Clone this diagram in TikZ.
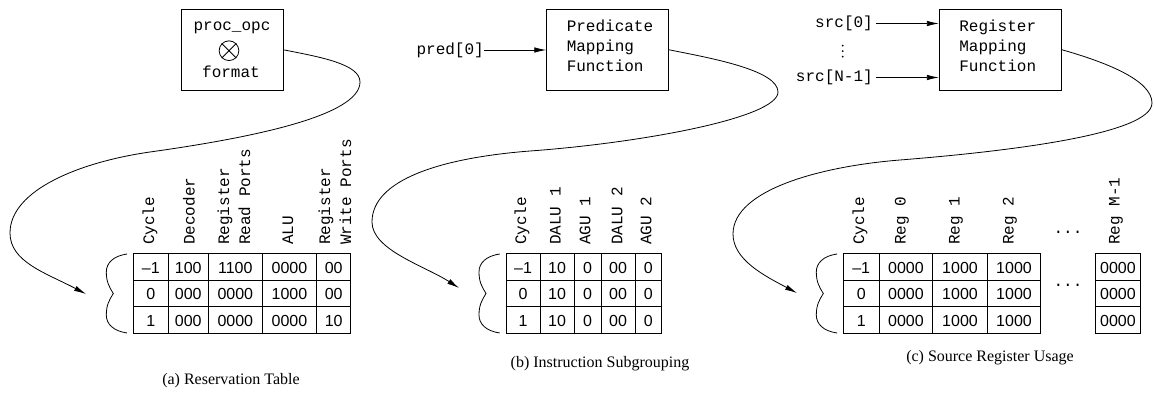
\documentclass[tikz,border=0pt]{standalone}
\usepackage{fontspec}
\setmainfont{Liberation Serif}
\newfontfamily\monof{Liberation Mono}
\newfontfamily\sansf{Liberation Sans}
\usetikzlibrary{arrows.meta}
\begin{document}
\begin{tikzpicture}[x=1pt,y=-1pt,
  mono/.style={font=\monof\fontsize{16}{20}\selectfont, inner sep=0},
  cell/.style={font=\sansf\fontsize{16}{18}\selectfont, inner sep=0},
  hdr/.style={font=\monof\fontsize{16}{21}\selectfont, rotate=90, anchor=west, align=left, inner sep=0},
  fnbox/.style={draw, line width=0.8pt, minimum height=81pt, inner sep=0},
  captext/.style={font=\fontsize{16}{19}\selectfont, inner sep=0},
  gridline/.style={line width=0.8pt},
  bracel/.style={line width=0.8pt},
  dotmark/.style={circle, fill, inner sep=0, minimum size=2pt},
  arr/.style={line width=0.8pt, -{Latex[length=12pt,width=5.5pt]}}]
\path[use as bounding box] (0,0) rectangle (1154,406);

% ---------------- (a) ----------------
\node[fnbox, minimum width=102pt] (pa) at (232,49.8) {};
\node[mono] (popc) at (232,27.5) {proc\_opc};
\node[draw, circle, line width=0.8pt, minimum size=19.7pt, inner sep=0] (ox) at (229,50.7) {};
\draw[line width=0.8pt] (ox.45) -- (ox.225) (ox.135) -- (ox.315);
\node[mono] (fmt) at (231,72) {format};

\coordinate (ta) at (86,294);
\draw[arr] (pa.east) .. controls (320,57) and (360,64) .. (360,82)
  .. controls (360,116) and (250,138) .. (150,152)
  .. controls (80,162) and (10,190) .. (10,233)
  .. controls (10,262) and (46,273) .. (ta);

\draw[bracel, shift={(133.3,0)}] (-6.3,254) .. controls (-20,256) and (-27,263) .. (-27,272)
  .. controls (-27,282) and (-24,287) .. (-20,293.5)
  .. controls (-24,300) and (-27,305) .. (-27,315)
  .. controls (-27,324) and (-20,331) .. (-6.3,333);

\draw[gridline] (133.3,253.5) rectangle (350.7,333.3);
\foreach \x in {168.3,208.3,262.3,316.7} \draw[gridline] (\x,253.5) -- (\x,333.3);
\foreach \y in {280,306.7} \draw[gridline] (133.3,\y) -- (350.7,\y);

\node[hdr] (ah1) at (150,245) {Cycle};
\node[hdr] (ah2) at (189,245) {Decoder};
\node[hdr] (ah3) at (234,245) {Register\\Read Ports};
\node[hdr] (ah4) at (288,245) {ALU};
\node[hdr] (ah5) at (335,245) {Register\\Write Ports};

\foreach \x/\p/\q/\r [count=\i] in {150.8/–1/0/1, 188.3/100/000/000, 235.3/1100/0000/0000, 289.5/0000/1000/0000, 333.7/00/00/10} {
  \node[cell] (a-\i-1) at (\x,267.5) {\p};
  \node[cell] (a-\i-2) at (\x,294) {\q};
  \node[cell] (a-\i-3) at (\x,320.7) {\r};
}
\node[captext] (capa) at (231,381) {(a) Reservation Table};

% ---------------- (b) ----------------
\node[fnbox, minimum width=122pt] (pmf) at (607.7,49.8) {};
\node[mono, align=left] (pmft) at (610,45.5) {Predicate\\Mapping\\Function};
\node[mono, anchor=east] (pred) at (484,50) {pred[0]};
\draw[arr] (pred.east) -- (pred.east -| pmf.west);

\coordinate (tb) at (459,288);
\draw[arr] (pmf.east) .. controls (710,58) and (778,70) .. (778,92)
  .. controls (778,118) and (640,143) .. (530,151)
  .. controls (440,158) and (372,180) .. (372,222)
  .. controls (372,250) and (425,266) .. (tb);

\draw[bracel, shift={(506,0)}] (-6.3,254) .. controls (-20,256) and (-27,263) .. (-27,272)
  .. controls (-27,282) and (-24,287) .. (-20,293.5)
  .. controls (-24,300) and (-27,305) .. (-27,315)
  .. controls (-27,324) and (-20,331) .. (-6.3,333);

\draw[gridline] (506,253.5) rectangle (661.7,333.3);
\foreach \x in {540,574,601,635} \draw[gridline] (\x,253.5) -- (\x,333.3);
\foreach \y in {280,306.7} \draw[gridline] (506,\y) -- (661.7,\y);

\node[hdr] (bh1) at (522,245) {Cycle};
\node[hdr] (bh2) at (555.5,245) {DALU 1};
\node[hdr] (bh3) at (585,245) {AGU 1};
\node[hdr] (bh4) at (617,245) {DALU 2};
\node[hdr] (bh5) at (646,245) {AGU 2};

\foreach \x/\p/\q/\r [count=\i] in {523/–1/0/1, 557/10/10/10, 587.5/0/0/0, 618/00/00/00, 648.3/0/0/0} {
  \node[cell] (b-\i-1) at (\x,267.5) {\p};
  \node[cell] (b-\i-2) at (\x,294) {\q};
  \node[cell] (b-\i-3) at (\x,320.7) {\r};
}
\node[captext] (capb) at (600,364) {(b) Instruction Subgrouping};

% ---------------- (c) ----------------
\node[fnbox, minimum width=122.4pt] (rmf) at (1000.5,49.8) {};
\node[mono, align=left] (rmft) at (997.7,45.5) {Register\\Mapping\\Function};
\node[mono, anchor=east, inner sep=2.5pt] (src0) at (875.5,23.5) {src[0]};
\node[mono, anchor=east, inner sep=2.5pt] (srcn) at (875.5,77.5) {src[N-1]};
\draw[arr] (src0.east) -- (src0.east -| rmf.west);
\draw[arr] (srcn.east) -- (srcn.east -| rmf.west);
\node[dotmark] (vd1) at (842.7,45.7) {};
\node[dotmark] (vd2) at (842.7,51.2) {};
\node[dotmark] (vd3) at (842.7,56.7) {};

\coordinate (tc) at (797,293);
\draw[arr] (rmf.east) .. controls (1105,62) and (1152,80) .. (1152,103)
  .. controls (1152,135) and (1000,152) .. (900,160)
  .. controls (820,166.4) and (733,190) .. (733,234)
  .. controls (733,260) and (765,276) .. (tc);

\draw[bracel, shift={(843.3,0)}] (-6.3,254) .. controls (-20,256) and (-27,263) .. (-27,272)
  .. controls (-27,282) and (-24,287) .. (-20,293.5)
  .. controls (-24,300) and (-27,305) .. (-27,315)
  .. controls (-27,324) and (-20,331) .. (-6.3,333);

\draw[gridline] (843.3,253.5) rectangle (1040.7,333.3);
\foreach \x in {879,932.7,987.3} \draw[gridline] (\x,253.5) -- (\x,333.3);
\foreach \y in {280,306.7} \draw[gridline] (843.3,\y) -- (1040.7,\y);
\draw[gridline] (1095,253.5) rectangle (1140.7,333.3);
\foreach \y in {280,306.7} \draw[gridline] (1095,\y) -- (1140.7,\y);

\node[hdr] (ch1) at (860,245) {Cycle};
\node[hdr] (ch2) at (902,245) {Reg 0};
\node[hdr] (ch3) at (956,245) {Reg 1};
\node[hdr] (ch4) at (1010,245) {Reg 2};
\node[hdr] (ch5) at (1116,245) {Reg M-1};
\node[mono] (hd) at (1068,232) {...};
\node[mono] (rd) at (1068,285) {...};

\foreach \x/\p/\q/\r [count=\i] in {861.2/–1/0/1, 905.9/0000/0000/0000, 960/1000/1000/1000, 1014/1000/1000/1000, 1117.9/0000/0000/0000} {
  \node[cell] (c-\i-1) at (\x,267.5) {\p};
  \node[cell] (c-\i-2) at (\x,294) {\q};
  \node[cell] (c-\i-3) at (\x,320.7) {\r};
}
\node[captext] (capc) at (990,358) {(c) Source Register Usage};
\end{tikzpicture}
\end{document}
